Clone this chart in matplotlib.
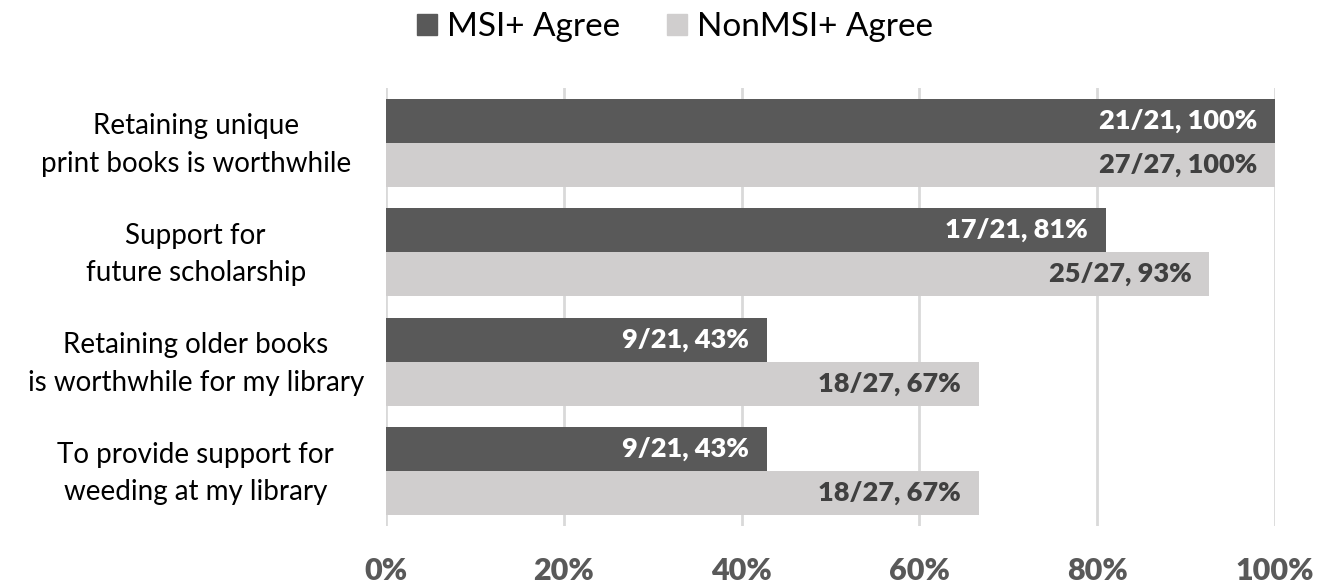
import matplotlib
matplotlib.use("Agg")
import matplotlib.pyplot as plt
from matplotlib.patches import Patch
from matplotlib.transforms import ScaledTranslation

plt.rcParams['font.family'] = ['Lato', 'DejaVu Sans']

categories = ["Retaining unique\nprint books is worthwhile",
              "Support for\nfuture scholarship",
              "Retaining older books\nis worthwhile for my library",
              "To provide support for\nweeding at my library"]
msi_counts = [21, 17, 9, 9]
msi_total = 21
non_counts = [27, 25, 18, 18]
non_total = 27
series_names = ["MSI+ Agree", "NonMSI+ Agree"]
xticks = [0, 20, 40, 60, 80, 100]

dark = "#595959"
light = "#d0cece"

fig = plt.figure(figsize=(13.25, 5.85), dpi=100)
ax = fig.add_axes([386/1325, 1-526/585, (1275-386)/1325, 438/585])

msi_pct = [100*c/msi_total for c in msi_counts]
non_pct = [100*c/non_total for c in non_counts]
y = list(range(len(categories)))
h = 0.4
ax.barh([i - h/2 for i in y], msi_pct, height=h, color=dark, zorder=3)
ax.barh([i + h/2 for i in y], non_pct, height=h, color=light, zorder=3)

for i in y:
    ax.text(msi_pct[i] - 2.0, i - h/2, f"{msi_counts[i]}/{msi_total}, {round(msi_pct[i])}%",
            ha='right', va='center', color='white', fontweight='heavy', fontsize=19.5, zorder=4)
    ax.text(non_pct[i] - 2.0, i + h/2, f"{non_counts[i]}/{non_total}, {round(non_pct[i])}%",
            ha='right', va='center', color='#404040', fontweight='heavy', fontsize=19.5, zorder=4)

ax.set_xlim(0, 100)
ax.set_ylim(3.5, -0.5)
ax.set_xticks(xticks)
ax.set_xticklabels([f"{t}%" for t in xticks], fontsize=22, fontweight='heavy', color='#595959')
ax.set_yticks(y)
ax.set_yticklabels(categories, fontsize=20, color='black', ha='center', linespacing=1.55)
ax.tick_params(axis='y', length=0, pad=137)
ax.tick_params(axis='x', length=0, pad=22)
shift = ScaledTranslation(0, 6/100, fig.dpi_scale_trans)
for lab in ax.get_yticklabels():
    lab.set_transform(lab.get_transform() + shift)
ax.grid(axis='x', color='#d9d9d9', linewidth=2, zorder=0)
for s in ax.spines.values():
    s.set_visible(False)

handles = [Patch(color=dark), Patch(color=light)]
fig.legend(handles, series_names, loc='center', bbox_to_anchor=(675/1325, 1-27/585), ncol=2,
           frameon=False, fontsize=24, handlelength=0.6, handleheight=0.6, columnspacing=1.4,
           handletextpad=0.3)

fig.savefig("out.png", dpi=100)
